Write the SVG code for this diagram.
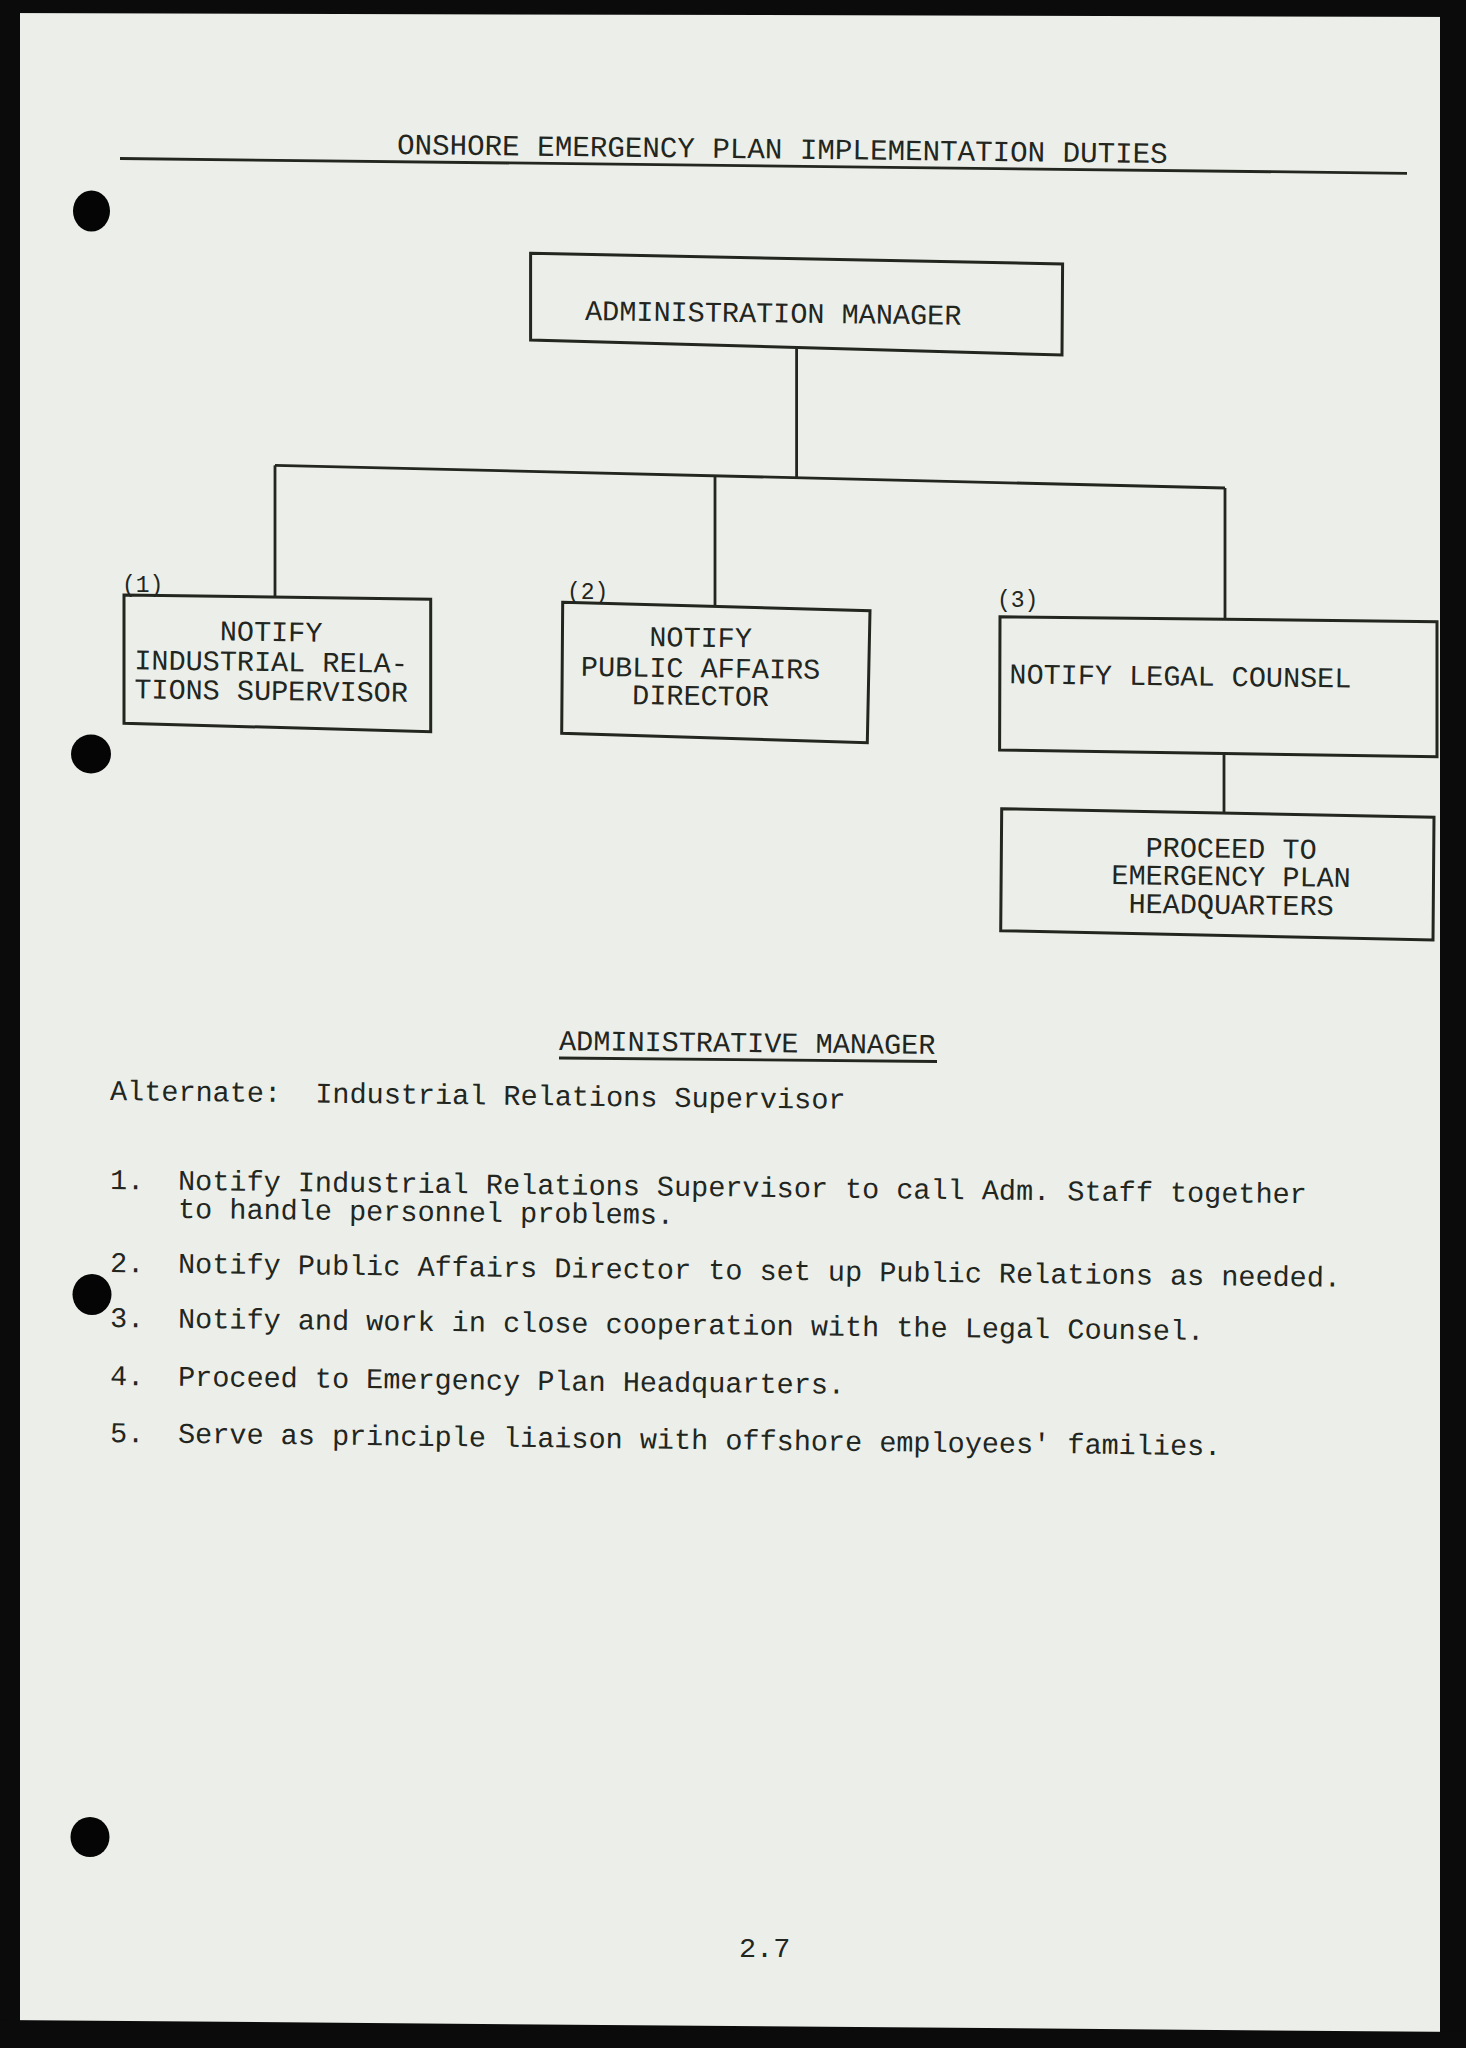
<svg xmlns="http://www.w3.org/2000/svg" width="1466" height="2048" viewBox="0 0 1466 2048">
<style>
.t{font-family:"Liberation Mono","DejaVu Sans Mono",monospace;font-size:28.5px;fill:#22261f}
.tc{text-anchor:middle}
.lbl{font-family:"Liberation Mono","DejaVu Sans Mono",monospace;font-size:23px;fill:#22261f}
.box{fill:none;stroke:#22261f;stroke-width:3;stroke-linejoin:miter}
.ln{fill:none;stroke:#22261f;stroke-width:2.8}
.hole{fill:#050505}
.edge{fill:#0b0b0b}
</style>
<rect x="0" y="0" width="1466" height="2048" fill="#ecefe9"/>
<!-- scan edges -->
<polygon class="edge" points="0,0 1466,0 1466,17 0,13"/>
<rect class="edge" x="0" y="0" width="20" height="2048"/>
<rect class="edge" x="1440" y="0" width="26" height="2048"/>
<polygon class="edge" points="0,2020 1466,2032 1466,2048 0,2048"/>

<!-- title -->
<text class="t" x="397" y="154" style="font-size:29.2px" transform="rotate(0.67 397 154)">ONSHORE EMERGENCY PLAN IMPLEMENTATION DUTIES</text>
<line class="ln" x1="120" y1="158.5" x2="1407" y2="173.3" stroke-width="3"/>

<!-- connectors -->
<g id="connectors">
<line class="ln" x1="796.6" y1="347" x2="796.6" y2="478"/>
<line class="ln" x1="275" y1="465.3" x2="1225" y2="488"/>
<line class="ln" x1="275" y1="465.3" x2="275" y2="597"/>
<line class="ln" x1="715" y1="475.8" x2="715" y2="606.5"/>
<line class="ln" x1="1225" y1="488" x2="1225" y2="619.3"/>
<line class="ln" x1="1224" y1="754" x2="1224" y2="813"/>
</g>

<g id="node-admin">
<polygon class="box" points="530.6,253.3 1062.6,264 1062,355 530.6,340"/>
<text class="t" x="585" y="320" transform="rotate(0.7 585 320)">ADMINISTRATION MANAGER</text>
</g>

<g id="node-ir">
<text class="lbl" x="122" y="592">(1)</text>
<polygon class="box" points="124,595 430.7,599.3 430.7,731.7 124,723.3"/>
<text class="t tc" x="271" y="641" transform="rotate(0.7 271 641)">NOTIFY</text>
<text class="t tc" x="271" y="671" transform="rotate(0.7 271 671)">INDUSTRIAL RELA-</text>
<text class="t tc" x="271" y="700" transform="rotate(0.7 271 700)">TIONS SUPERVISOR</text>
</g>

<g id="node-pa">
<text class="lbl" x="567" y="599">(2)</text>
<polygon class="box" points="562.7,602.3 870,610.7 867.3,742.7 561.7,733.3"/>
<text class="t tc" x="700.5" y="646.7" transform="rotate(0.7 700.5 646.7)">NOTIFY</text>
<text class="t tc" x="700.5" y="677.3" transform="rotate(0.7 700.5 677.3)">PUBLIC AFFAIRS</text>
<text class="t tc" x="700.5" y="705" transform="rotate(0.7 700.5 705)">DIRECTOR</text>
</g>

<g id="node-legal">
<text class="lbl" x="997" y="607">(3)</text>
<polygon class="box" points="1000,616.7 1437,621.7 1437,756.7 999.6,750"/>
<text class="t" x="1009.3" y="683.3" transform="rotate(0.7 1009.3 683.3)">NOTIFY LEGAL COUNSEL</text>
</g>

<g id="node-hq">
<polygon class="box" points="1001.7,808.7 1434,817.3 1433,940 1000.7,930.7"/>
<text class="t tc" x="1231" y="857.7" transform="rotate(0.7 1231 857.7)">PROCEED TO</text>
<text class="t tc" x="1231" y="885.5" transform="rotate(0.7 1231 885.5)">EMERGENCY PLAN</text>
<text class="t tc" x="1231" y="914" transform="rotate(0.7 1231 914)">HEADQUARTERS</text>
</g>

<!-- duties text -->
<text class="t" x="559" y="1050" transform="rotate(0.6 559 1050)">ADMINISTRATIVE MANAGER</text>
<line class="ln" x1="559" y1="1058" x2="937" y2="1061.5" stroke-width="2.5"/>
<text class="t" x="110" y="1100" transform="rotate(0.68 110 1100)" xml:space="preserve">Alternate:  Industrial Relations Supervisor</text>

<g transform="rotate(0.68 110 1189)">
<text class="t" x="110" y="1189">1.</text>
<text class="t" x="178" y="1189">Notify Industrial Relations Supervisor to call Adm. Staff together</text>
</g>
<text class="t" x="178" y="1218" transform="rotate(0.68 178 1218)">to handle personnel problems.</text>
<g transform="rotate(0.68 110 1272)">
<text class="t" x="110" y="1272">2.</text>
<text class="t" x="178" y="1272">Notify Public Affairs Director to set up Public Relations as needed.</text>
</g>
<g transform="rotate(0.68 110 1327)">
<text class="t" x="110" y="1327">3.</text>
<text class="t" x="178" y="1327">Notify and work in close cooperation with the Legal Counsel.</text>
</g>
<g transform="rotate(0.68 110 1385)">
<text class="t" x="110" y="1385">4.</text>
<text class="t" x="178" y="1385">Proceed to Emergency Plan Headquarters.</text>
</g>
<g transform="rotate(0.68 110 1442)">
<text class="t" x="110" y="1442">5.</text>
<text class="t" x="178" y="1442">Serve as principle liaison with offshore employees' families.</text>
</g>

<text class="t" x="739" y="1957">2.7</text>

<!-- punch holes -->
<ellipse class="hole" cx="91.5" cy="211" rx="18.5" ry="20.5"/>
<ellipse class="hole" cx="91" cy="754" rx="20" ry="19.5"/>
<ellipse class="hole" cx="92" cy="1294.5" rx="19.5" ry="20.5"/>
<ellipse class="hole" cx="90" cy="1837" rx="19.5" ry="20"/>
</svg>
